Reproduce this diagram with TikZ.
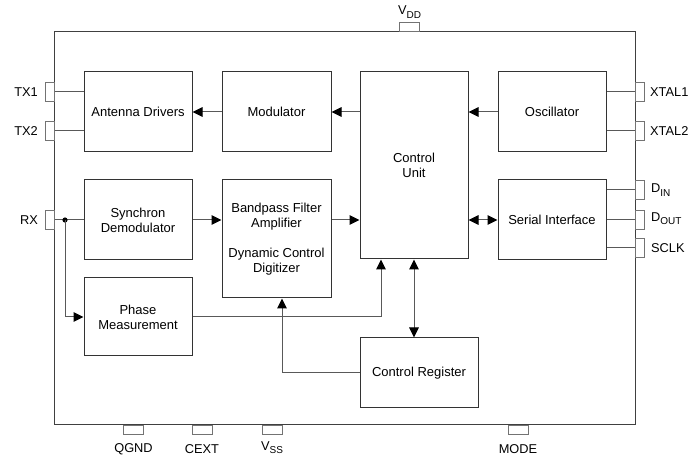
\documentclass[tikz,border=0pt]{standalone}
\usepackage{fontspec}
\setmainfont{Liberation Sans}
\usetikzlibrary{arrows.meta}
\newcommand{\pinsub}[1]{\raisebox{-0.25em}{\fontsize{10}{10}\selectfont #1}}
\begin{document}
\begin{tikzpicture}[x=1pt,y=-1pt,
  blk/.style={draw=black!80,line width=1pt,rectangle,inner sep=0pt,align=center,
    font=\fontsize{13}{15}\selectfont},
  conn/.style={draw=black!65,line width=1pt},
  arr/.style={conn,-{Triangle[length=10pt,width=9.5pt,color=black]}},
  darr/.style={conn,{Triangle[length=10pt,width=9.5pt,color=black]}-{Triangle[length=10pt,width=9.5pt,color=black]}},
  pinv/.style={draw=black!55,line width=1pt,rectangle,inner sep=0pt,minimum width=9pt,minimum height=19.5pt},
  pinh/.style={draw=black!55,line width=1pt,rectangle,inner sep=0pt,minimum width=20pt,minimum height=9pt},
  lbl/.style={inner sep=0pt,font=\fontsize{12.8}{14}\selectfont}]
\useasboundingbox (0,0) rectangle (689,465);
% chip outline
\draw[draw=black!75,line width=1pt] (54,32) rectangle (635,425);
% blocks
\node[blk,minimum width=108pt,minimum height=80pt] (ad) at (138,112) {Antenna Drivers};
\node[blk,minimum width=109pt,minimum height=80pt] (mod) at (276.5,112) {Modulator};
\node[blk,minimum width=108pt,minimum height=187pt] (cu) at (414,165.5) {Control\\Unit};
\node[blk,minimum width=108pt,minimum height=80pt] (osc) at (552,112) {Oscillator};
\node[blk,minimum width=108pt,minimum height=80pt] (syn) at (138,220) {Synchron\\Demodulator};
\node[blk,minimum width=109pt,minimum height=118pt] (bp) at (276.5,239) {Bandpass Filter\\Amplifier\\[15pt]Dynamic Control\\Digitizer};
\node[blk,minimum width=108pt,minimum height=80pt] (ser) at (552,220) {Serial Interface};
\node[blk,minimum width=108pt,minimum height=78pt] (ph) at (138,317) {Phase\\Measurement};
\node[blk,minimum width=118pt,minimum height=70pt] (cr) at (419,373) {Control Register};
% pins left
\node[pinv] (tx1) at (49.5,92) {};
\node[pinv] (tx2) at (49.5,131) {};
\node[pinv] (rx) at (49.5,220) {};
\node[lbl,anchor=east] (ltx1) at (38,92) {TX1};
\node[lbl,anchor=east] (ltx2) at (38,131) {TX2};
\node[lbl,anchor=east] (lrx) at (38,220) {RX};
% pins right
\node[pinv] (x1) at (639.5,92) {};
\node[pinv] (x2) at (639.5,131) {};
\node[pinv] (din) at (639.5,190) {};
\node[pinv] (dout) at (639.5,220) {};
\node[pinv] (sclk) at (639.5,248) {};
\node[lbl,anchor=west] (lx1) at (650,92) {XTAL1};
\node[lbl,anchor=west] (lx2) at (650,131) {XTAL2};
\node[lbl,anchor=west] (ldin) at (651,190) {D\pinsub{IN}};
\node[lbl,anchor=west] (ldout) at (651,219) {D\pinsub{OUT}};
\node[lbl,anchor=west] (lsclk) at (651,248) {SCLK};
% pins top/bottom
\node[pinh] (vdd) at (409.5,27.5) {};
\node[lbl] (lvdd) at (409.5,12) {V\pinsub{DD}};
\node[pinh] (qgnd) at (133.5,430) {};
\node[pinh] (cext) at (202,430) {};
\node[pinh] (vss) at (272,430) {};
\node[pinh] (mode) at (518,430) {};
\node[lbl] (lqgnd) at (133.5,449) {QGND};
\node[lbl] (lcext) at (202,449) {CEXT};
\node[lbl] (lvss) at (272,448) {V\pinsub{SS}};
\node[lbl] (lmode) at (518,449) {MODE};
% pin connections
\draw[conn] (tx1.east) -- (ad.west |- tx1.east);
\draw[conn] (tx2.east) -- (ad.west |- tx2.east);
\draw[conn] (rx.east) -- (syn.west);
\draw[conn] (x1.west) -- (osc.east |- x1.west);
\draw[conn] (x2.west) -- (osc.east |- x2.west);
\draw[conn] (din.west) -- (ser.east |- din.west);
\draw[conn] (dout.west) -- (ser.east |- dout.west);
\draw[conn] (sclk.west) -- (ser.east |- sclk.west);
% internal arrows
\draw[arr] (mod.west) -- (ad.east);
\draw[arr] (cu.west |- mod.west) -- (mod.east);
\draw[arr] (osc.west) -- (cu.east |- osc.west);
\draw[darr] (ser.west) -- (cu.east |- ser.west);
\draw[arr] (syn.east) -- (bp.west |- syn.east);
\draw[arr] (bp.east |- syn.east) -- (cu.west |- syn.east);
\coordinate (rxj) at (65,220);
\fill[black] (rxj) circle (2.6pt);
\draw[arr] (rxj) |- (ph.west);
\draw[arr] (ph.east) -| ([xshift=-33pt]cu.south);
\draw[darr] (cu.south) -- (cu.south |- cr.north);
\draw[arr] (cr.west) -| ([xshift=5.5pt]bp.south);
\end{tikzpicture}
\end{document}
